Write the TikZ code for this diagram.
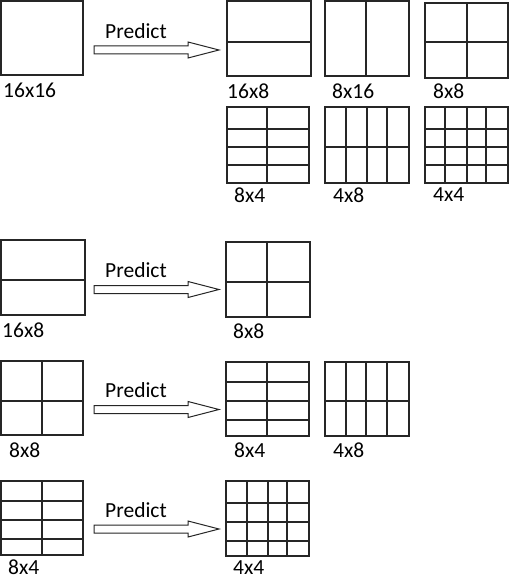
\documentclass[tikz,border=0pt]{standalone}
\usepackage{fontspec}
\setmainfont{Carlito}
\usetikzlibrary{calc}
\tikzset{
  blk/.style={draw=black!85, line width=1.3pt, inner sep=0pt, outer sep=0pt, anchor=north west},
  gline/.style={draw=black!85, line width=1.1pt},
  lbl/.style={anchor=west, inner sep=0pt, font=\fontsize{21.5}{25}\selectfont},
  prd/.style={inner sep=0pt, font=\fontsize{21.5}{25}\selectfont},
  harrow/.style={draw=black!85, line width=1pt, fill=white, line join=miter}
}
% box: name, x1, y1, x2, y2
\newcommand\pbox[5]{\node[blk, minimum width={(#4-#2)*1pt}, minimum height={(#5-#3)*1pt}] (#1) at (#2,#3) {};}
% vertical lines: x list, y1, y2
\newcommand\vlines[3]{\foreach \xx in {#1} {\draw[gline] (\xx,#2) -- (\xx,#3);}}
\newcommand\hlines[3]{\foreach \yy in {#3} {\draw[gline] (#1,\yy) -- (#2,\yy);}}
% hollow arrow: name, y
\newcommand\predarrow[2]{%
  \coordinate (#1s) at (94,#2);
  \coordinate (#1t) at (219,#2);
  \draw[harrow] ($(#1s)+(0,-4)$) -- ($(#1t)+(-31,-4)$) -- ($(#1t)+(-31,-8)$) -- (#1t)
    -- ($(#1t)+(-31,8)$) -- ($(#1t)+(-31,4)$) -- ($(#1s)+(0,4)$) -- cycle;
  \node[prd] (#1lab) at (136,#2-19) {Predict};
}
\begin{document}
\begin{tikzpicture}[x=1pt, y=-1pt]
\useasboundingbox (0,0) rectangle (510,577);

% ---------- section 1 ----------
\pbox{A}{1}{1}{83}{75}
\node[lbl] (Alab) at (3,90) {16x16};
\predarrow{p1}{50}

\pbox{B}{227}{1}{311}{76}
\hlines{227}{311}{42}
\node[lbl] (Blab) at (227,91) {16x8};

\pbox{C}{325}{1}{409}{76}
\vlines{366}{1}{76}
\node[lbl] (Clab) at (332,91) {8x16};

\pbox{D}{425}{3}{508}{78}
\vlines{467}{3}{78}
\hlines{425}{508}{42}
\node[lbl] (Dlab) at (433,91) {8x8};

\pbox{E}{227}{107}{309}{183}
\hlines{227}{309}{129,147,165}
\vlines{267}{107}{183}
\node[lbl] (Elab) at (234,195) {8x4};

\pbox{F}{325}{107}{409}{183}
\vlines{346,367,387}{107}{183}
\hlines{325}{409}{147}
\node[lbl] (Flab) at (333,195) {4x8};

\pbox{G}{425}{107}{508}{183}
\vlines{445,467,486}{107}{183}
\hlines{425}{508}{129,147,165}
\node[lbl] (Glab) at (433,195) {4x4};

% ---------- section 2 ----------
\pbox{H}{1}{240}{85}{315}
\hlines{1}{85}{280}
\node[lbl] (Hlab) at (2,330) {16x8};
\predarrow{p2}{289.5}

\pbox{I}{226}{242}{310}{317}
\vlines{267}{242}{317}
\hlines{226}{310}{282}
\node[lbl] (Ilab) at (233,331) {8x8};

% ---------- section 3 ----------
\pbox{J}{1}{361}{83}{435}
\vlines{42}{361}{435}
\hlines{1}{83}{401}
\node[lbl] (Jlab) at (9,450) {8x8};
\predarrow{p3}{409.5}

\pbox{K}{226}{362}{309}{436}
\hlines{226}{309}{382,401,420}
\vlines{267}{362}{436}
\node[lbl] (Klab) at (234,450) {8x4};

\pbox{L}{325}{362}{409}{436}
\vlines{346,366,387}{362}{436}
\hlines{325}{409}{401}
\node[lbl] (Llab) at (333,450) {4x8};

% ---------- section 4 ----------
\pbox{M}{1}{481}{83}{555}
\hlines{1}{83}{501,520,539}
\vlines{42}{481}{555}
\node[lbl] (Mlab) at (8,567.5) {8x4};
\predarrow{p4}{529}

\pbox{N}{226}{481}{309}{556}
\vlines{247,268,287}{481}{556}
\hlines{226}{309}{503,522,541}
\node[lbl] (Nlab) at (233,567.5) {4x4};
\end{tikzpicture}
\end{document}
